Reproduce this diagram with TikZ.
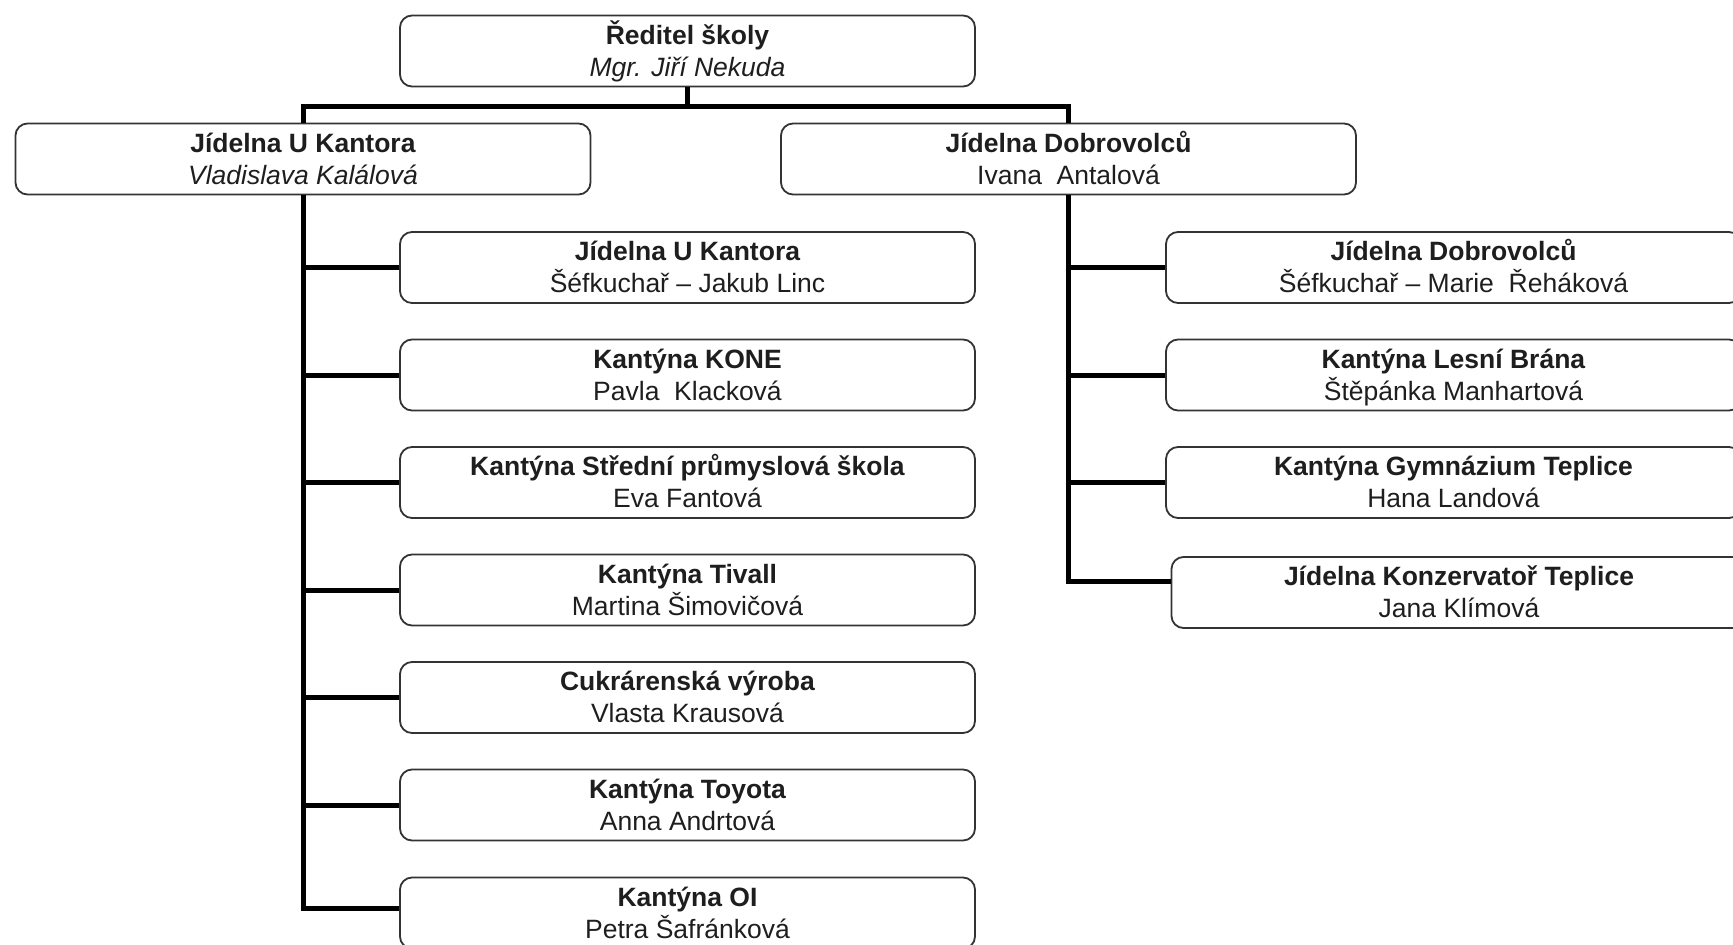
\documentclass[tikz,border=0pt]{standalone}
\usepackage{fontspec}
\setmainfont{Liberation Sans}
\definecolor{boxc}{HTML}{333333}
\definecolor{txt}{HTML}{1E1E1E}
\newcommand\lstrut{\rule[-7pt]{0pt}{32pt}}
\newcommand\twoline[2]{\lstrut#1\\\lstrut#2}
\tikzset{
  box/.style={draw=boxc, line width=1.8pt, rounded corners=12pt,
    minimum width=575pt, minimum height=71pt, align=center, inner sep=0pt,
    font=\fontsize{26.5}{32}\selectfont, text=txt, fill=white},
  conn/.style={line width=5pt, draw=black, line join=miter},
}
\begin{document}
\begin{tikzpicture}[x=1pt,y=-1pt]
\useasboundingbox (0,0) rectangle (1733,945);
\clip (0,0) rectangle (1733,945);
\fill[white] (0,0) rectangle (1733,945);

% nodes
\node[box] (top) at (687.5,51) {\twoline{\textbf{Ředitel školy}}{\textit{Mgr. Jiří Nekuda}}};
\node[box] (L) at (303,159) {\twoline{\textbf{Jídelna U Kantora}}{\textit{Vladislava Kalálová}}};
\node[box] (R) at (1068.5,159) {\twoline{\textbf{Jídelna Dobrovolců}}{Ivana~~Antalová}};

\node[box] (c1) at (687.5,267.5) {\twoline{\textbf{Jídelna U Kantora}}{Šéfkuchař – Jakub Linc}};
\node[box] (c2) at (687.5,375) {\twoline{\textbf{Kantýna KONE}}{Pavla~~Klacková}};
\node[box] (c3) at (687.5,482.5) {\twoline{\textbf{Kantýna Střední průmyslová škola}}{Eva Fantová}};
\node[box] (c4) at (687.5,590) {\twoline{\textbf{Kantýna Tivall}}{Martina Šimovičová}};
\node[box] (c5) at (687.5,697.5) {\twoline{\textbf{Cukrárenská výroba}}{Vlasta Krausová}};
\node[box] (c6) at (687.5,805) {\twoline{\textbf{Kantýna Toyota}}{Anna Andrtová}};
\node[box] (c7) at (687.5,913) {\twoline{\textbf{Kantýna OI}}{Petra Šafránková}};

\node[box] (d1) at (1453.5,267.5) {\twoline{\textbf{Jídelna Dobrovolců}}{Šéfkuchař – Marie~~Řeháková}};
\node[box] (d2) at (1453.5,375) {\twoline{\textbf{Kantýna Lesní Brána}}{Štěpánka Manhartová}};
\node[box] (d3) at (1453.5,482.5) {\twoline{\textbf{Kantýna Gymnázium Teplice}}{Hana Landová}};
\node[box] (d4) at (1459,592.5) {\twoline{\textbf{Jídelna Konzervatoř Teplice}}{Jana Klímová}};

% connectors
\coordinate (bar) at (0,106);
\draw[conn] (top.south) -- (top.south |- bar);
\draw[conn] (L.north) -- (L.north |- bar) -- (R.north |- bar) -- (R.north);

\draw[conn] (L.south) |- ([yshift=4.5pt]c7.west);
\foreach \n in {c1,c2,c3,c4,c5,c6}{
  \draw[conn] (L.south |- \n.west) -- (\n.west);
}
\draw[conn, line width=5.5pt] (R.south) |- ([yshift=11pt]d4.west);
\foreach \n in {d1,d2,d3}{
  \draw[conn] (R.south |- \n.west) -- (\n.west);
}
\end{tikzpicture}
\end{document}
